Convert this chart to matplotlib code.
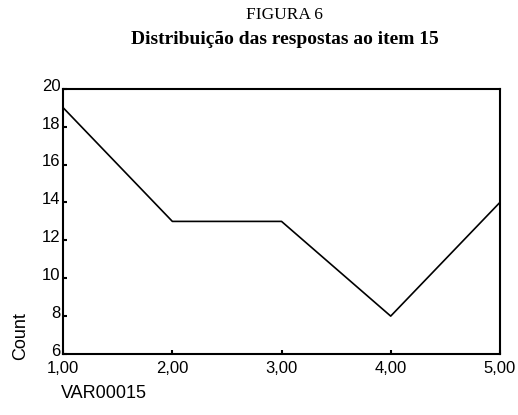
import matplotlib.pyplot as plt
from matplotlib import font_manager
from matplotlib.transforms import ScaledTranslation

x_values = [1, 2, 3, 4, 5]
counts = [19, 13, 13, 8, 14]
x_labels = ['1,00', '2,00', '3,00', '4,00', '5,00']
y_ticks = [6, 8, 10, 12, 14, 16, 18, 20]

names = {f.name for f in font_manager.fontManager.ttflist}
sans = 'Liberation Sans Narrow' if 'Liberation Sans Narrow' in names else 'Liberation Sans'

fig = plt.figure(figsize=(5.18, 4.15), dpi=100)
ax = fig.add_axes([0.122, 0.147, 0.843, 0.639])

ax.plot(x_values, counts, color='black', linewidth=1.2)
ax.set_xlim(1, 5)
ax.set_ylim(6, 20)
ax.set_xticks(x_values)
ax.set_xticklabels(x_labels, family=sans, fontsize=12)
ax.set_yticks(y_ticks)
ax.set_yticklabels([str(v) for v in y_ticks], family=sans, fontsize=12)
ax.tick_params(direction='in', length=3, width=1.5)
ax.tick_params(axis='x', pad=5)
ax.tick_params(axis='y', pad=2)
for s in ax.spines.values():
    s.set_linewidth(1.5)

# y labels sit a little above their ticks, like the original
shift = ScaledTranslation(0, 3 / 72, fig.dpi_scale_trans)
for lab in ax.get_yticklabels():
    lab.set_transform(lab.get_transform() + shift)

fig.text(0.55, 0.965, 'FIGURA 6', family='Liberation Serif', fontsize=12.5,
         ha='center', va='center')
fig.text(0.55, 0.905, 'Distribuição das respostas ao item 15', family='Liberation Serif',
         fontsize=14, fontweight='bold', ha='center', va='center')
fig.text(0.04, 0.19, 'Count', family=sans, fontsize=13, rotation=90,
         ha='center', va='center')
fig.text(0.118, 0.053, 'VAR00015', family=sans, fontsize=13, ha='left', va='center')

fig.savefig('out.png', dpi=100)
